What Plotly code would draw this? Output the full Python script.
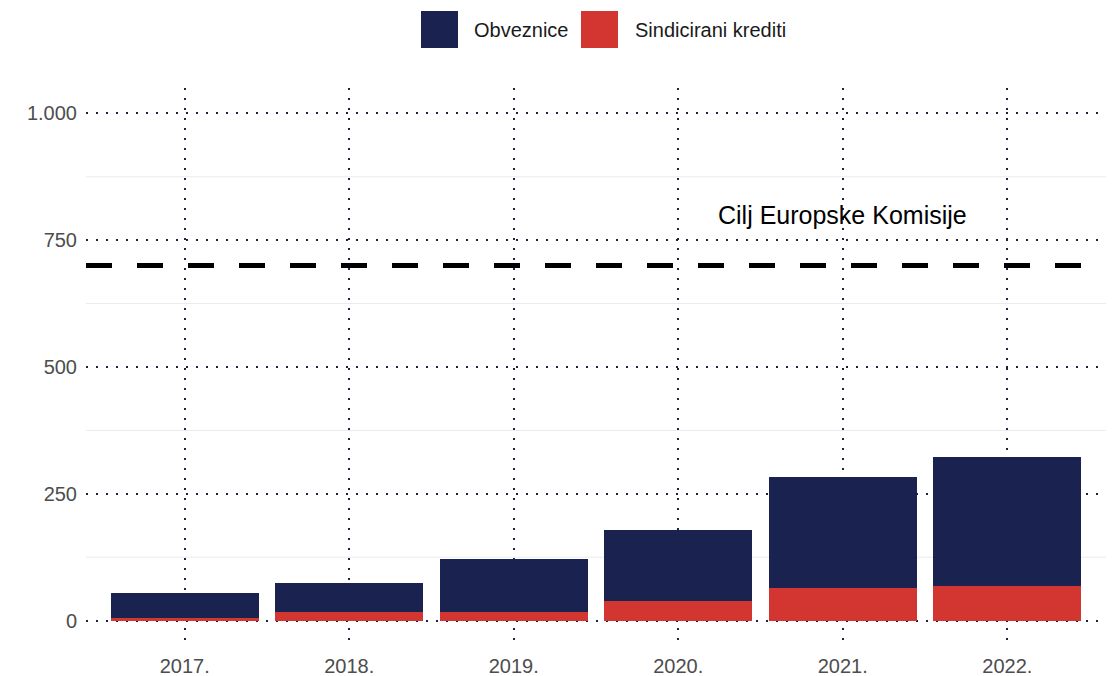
import plotly.graph_objects as go

# Issuance by year (values on the y axis)
years = ["2017.", "2018.", "2019.", "2020.", "2021.", "2022."]
obveznice = [49, 57, 104, 140, 219, 254]
sindicirani = [6, 18, 18, 39, 65, 69]
target_value = 700
target_label = "Cilj Europske Komisije"
series_names = ["Obveznice", "Sindicirani krediti"]
y_ticks = [0, 250, 500, 750, 1000]
y_tick_text = ["0", "250", "500", "750", "1.000"]
minor_ticks = [125, 375, 625, 875]

NAVY = "#1A2350"
RED = "#D33530"
FONT = "Liberation Sans, Arial, sans-serif"

fig = go.Figure()
fig.add_bar(x=years, y=sindicirani, name=series_names[1], marker_color=RED,
            marker_line_width=0, width=0.9, showlegend=False)
fig.add_bar(x=years, y=obveznice, name=series_names[0], marker_color=NAVY,
            marker_line_width=0, width=0.9, showlegend=False)

# light minor grid lines
for v in minor_ticks:
    fig.add_shape(type="line", xref="paper", x0=0, x1=1, yref="y", y0=v, y1=v,
                  line=dict(color="#EBEBEB", width=1), layer="below")

# target line
fig.add_shape(type="line", xref="paper", x0=0, x1=1, yref="y",
              y0=target_value, y1=target_value,
              line=dict(color="black", width=5, dash="26px,25px"), layer="above")
fig.add_annotation(xref="x", yref="y", x=years.index("2021."), y=target_value + 99,
                   text=target_label, showarrow=False,
                   font=dict(family=FONT, size=25, color="black"),
                   xanchor="center", yanchor="middle")

# legend keys drawn at the top
legend_items = [(series_names[0], NAVY, 421, 472), (series_names[1], RED, 581, 633)]
W, H = 1114, 676
for name, col, sx, tx in legend_items:
    fig.add_shape(type="rect", xref="paper", yref="paper",
                  x0=(sx - 86) / 1020, x1=(sx + 37 - 86) / 1020,
                  y0=(646 - 48) / 558, y1=(646 - 11) / 558,
                  fillcolor=col, line_width=0)
    fig.add_annotation(xref="paper", yref="paper", x=(tx - 86) / 1020,
                       y=(646 - 29.5) / 558, text=name, showarrow=False,
                       xanchor="left", yanchor="middle",
                       font=dict(family=FONT, size=20, color="#1A1A1A"))

fig.update_layout(
    width=W, height=H,
    barmode="stack",
    bargap=0.1,
    plot_bgcolor="white", paper_bgcolor="white",
    margin=dict(l=86, r=8, t=88, b=30),
    showlegend=False,
    font=dict(family=FONT, size=20, color="#4D4D4D"),
)
fig.update_xaxes(
    type="category",
    range=[-0.6, 5.6],
    showgrid=True, gridcolor="#1A2340", gridwidth=2, griddash="2px,8px",
    ticks="", showline=False, zeroline=False,
    tickfont=dict(family=FONT, size=20, color="#4D4D4D"),
    ticklabelstandoff=6, automargin=False,
)
fig.update_yaxes(
    range=[-50, 1050],
    tickvals=y_ticks, ticktext=y_tick_text,
    showgrid=True, gridcolor="#1A2340", gridwidth=2, griddash="2px,8px",
    ticks="", showline=False, zeroline=False,
    tickfont=dict(family=FONT, size=20, color="#4D4D4D"),
    ticklabelstandoff=8, automargin=False,
)

fig.write_html("out.html")
